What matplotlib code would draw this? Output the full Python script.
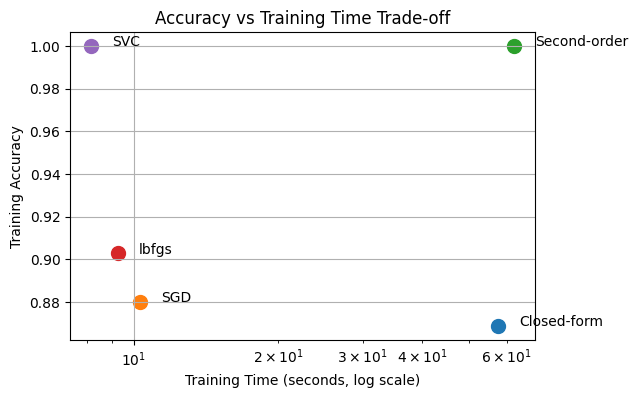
import matplotlib
matplotlib.use('Agg')
import matplotlib.pyplot as plt

methods = ['Closed-form', 'SGD', 'Second-order', 'lbfgs', 'SVC']
train_time = [57.5, 10.3, 62.1, 9.27, 8.15]
train_acc = [0.8687, 0.880, 1.000, 0.9028, 1.000]

fig, ax = plt.subplots(figsize=(6, 4))
for name, t, acc in zip(methods, train_time, train_acc):
    ax.scatter(t, acc, s=100)
    ax.annotate(name, (t, acc), xytext=(15, 0), textcoords='offset points')

ax.set_xscale('log')
ax.set_xlabel('Training Time (seconds, log scale)')
ax.set_ylabel('Training Accuracy')
ax.set_title('Accuracy vs Training Time Trade-off')
ax.grid(True)
plt.savefig('out.png', dpi=100, bbox_inches='tight')
